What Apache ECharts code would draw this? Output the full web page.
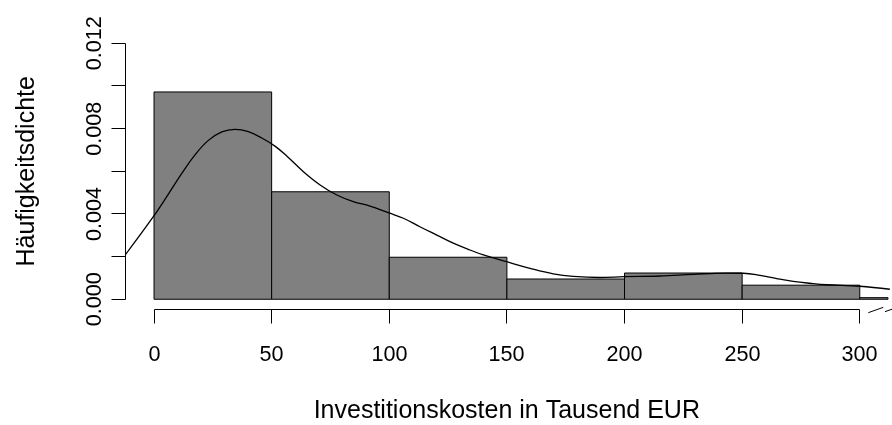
<!DOCTYPE html>
<html>
<head>
<meta charset="utf-8">
<script src="https://cdn.jsdelivr.net/npm/echarts@6/dist/echarts.min.js"></script>
<style>
  html, body { margin: 0; padding: 0; background: #fff; }
  #chart { width: 892px; height: 425px; }
</style>
</head>
<body>
<div id="chart"></div>
<script>
// Histogram class breaks (Tausend EUR) and densities
const breaks = [0, 50, 100, 150, 200, 250, 300, 350];
const densities = [0.00972, 0.00504, 0.00197, 0.00095, 0.00123, 0.00066, 0.000075];

// Kernel density curve
const curveX = [-12.3, -0.3, 6.1, 11.8, 17.4, 23.1, 28.8, 34.4, 40.1, 45.8, 51.4,
  56.4, 63.5, 70.6, 77.7, 84.7, 91.8, 99.6, 106, 113, 120.2, 127.2, 134.3,
  140, 149.9, 159.8, 169.7, 178.2, 189.6, 199.9, 215, 229.2, 243.4, 250.5,
  257.6, 264.7, 271.7, 278.8, 285.9, 300, 312.8];
const curveY = [0.00207, 0.00387, 0.00493, 0.0059, 0.00677, 0.00745, 0.00785, 0.00797, 0.00786, 0.00756, 0.00718,
  0.00672, 0.00598, 0.00536, 0.00489, 0.00458, 0.00437, 0.00406, 0.0038, 0.0034, 0.00301, 0.00263, 0.00231,
  0.00208, 0.00176, 0.00145, 0.00119, 0.00107, 0.00102, 0.00106, 0.00109, 0.00117, 0.00123, 0.00122,
  0.00112, 0.00097, 0.00084, 0.00075, 0.00068, 0.00061, 0.00047];

// Axis ticks and labels
const xTicks = [0, 50, 100, 150, 200, 250, 300];
const xTickLabels = ['0', '50', '100', '150', '200', '250', '300'];
const yTicks = [0, 0.002, 0.004, 0.006, 0.008, 0.010, 0.012];
const yLabelValues = [0, 0.004, 0.008, 0.012];
const yTickLabels = ['0.000', '0.004', '0.008', '0.012'];

const xTitle = 'Investitionskosten in Tausend EUR';
const yTitle = 'Häufigkeitsdichte';

const histData = densities.map((d, i) => [breaks[i], breaks[i + 1], d]);
const curveData = curveX.map((x, i) => [x, curveY[i]]);

const FONT = '"Liberation Sans", Arial, Helvetica, sans-serif';
const FS = 21.6;
const FS_TITLE = 25;

const chart = echarts.init(document.getElementById('chart'), null, { renderer: 'canvas' });

function px(v) { return Math.round(v - 0.5) + 0.5; }

const option = {
  backgroundColor: '#ffffff',
  animation: false,
  grid: [
    // plot region (R usr range extended by 4%)
    { left: 125.8, right: 4, top: 33.1, bottom: 115.5, containLabel: false }
  ],
  xAxis: [{ gridIndex: 0, type: 'value', min: -12, max: 312, show: false }],
  yAxis: [{ gridIndex: 0, type: 'value', min: -0.00048, max: 0.01248, show: false }],
  series: [
    {
      type: 'custom',
      data: histData,
      encode: { x: [0, 1], y: 2 },
      renderItem: function (params, api) {
        const x0 = api.value(0), x1 = api.value(1), d = api.value(2);
        const p0 = api.coord([x0, d]);
        const p1 = api.coord([x1, 0]);
        const shape = echarts.graphic.clipRectByRect(
          { x: p0[0], y: p0[1], width: p1[0] - p0[0], height: p1[1] - p0[1] },
          { x: params.coordSys.x, y: params.coordSys.y, width: params.coordSys.width, height: params.coordSys.height }
        );
        if (!shape) return;
        return { type: 'rect', shape: shape, style: { fill: '#808080', stroke: '#000', lineWidth: 1 } };
      }
    },
    {
      type: 'line',
      data: curveData,
      smooth: 0.4,
      showSymbol: false,
      symbol: 'none',
      clip: true,
      lineStyle: { color: '#000', width: 1.3 },
      z: 5
    },
    {
      // R-style axes: drawn through the grid's own scales
      type: 'custom',
      data: [[0]],
      clip: false,
      silent: true,
      z: 6,
      renderItem: function (params, api) {
        const cs = params.coordSys;
        const bottom = px(cs.y + cs.height);
        const left = px(cs.x);
        const children = [];
        const lineStyle = { stroke: '#000', lineWidth: 1 };
        // x axis
        const xa = api.coord([xTicks[0], 0])[0];
        const xb = api.coord([xTicks[xTicks.length - 1], 0])[0];
        children.push({ type: 'line', shape: { x1: px(xa), y1: bottom, x2: px(xb), y2: bottom }, style: lineStyle });
        xTicks.forEach((t, i) => {
          const x = px(api.coord([t, 0])[0]);
          children.push({ type: 'line', shape: { x1: x, y1: bottom, x2: x, y2: bottom + 14 }, style: lineStyle });
          children.push({ type: 'text', x: x, y: bottom + 46,
            style: { text: xTickLabels[i], fill: '#000', font: FS + 'px ' + FONT, textAlign: 'center', textVerticalAlign: 'middle' } });
        });
        // y axis
        const ya = api.coord([0, yTicks[0]])[1];
        const yb = api.coord([0, yTicks[yTicks.length - 1]])[1];
        children.push({ type: 'line', shape: { x1: left, y1: px(ya), x2: left, y2: px(yb) }, style: lineStyle });
        yTicks.forEach(t => {
          const y = px(api.coord([0, t])[1]);
          children.push({ type: 'line', shape: { x1: left - 14, y1: y, x2: left, y2: y }, style: lineStyle });
        });
        yLabelValues.forEach((t, i) => {
          const y = api.coord([0, t])[1];
          children.push({ type: 'text', x: left - 30.5, y: y, rotation: Math.PI / 2,
            style: { text: yTickLabels[i], fill: '#000', font: FS + 'px ' + FONT, textAlign: 'center', textVerticalAlign: 'middle' } });
        });
        return { type: 'group', children: children };
      }
    }
  ],
  graphic: [
    { type: 'text', x: 506.8, y: 411, style: { text: xTitle, fill: '#000', font: FS_TITLE + 'px ' + FONT, textAlign: 'center', textVerticalAlign: 'middle' } },
    { type: 'text', x: 27, y: 171.3, rotation: Math.PI / 2, style: { text: yTitle, fill: '#000', font: FS_TITLE + 'px ' + FONT, textAlign: 'center', textVerticalAlign: 'middle' } },
    // axis break marks
    { type: 'line', shape: { x1: 868.3, y1: 312.7, x2: 883.3, y2: 307.3 }, style: { stroke: '#000', lineWidth: 1 } },
    { type: 'line', shape: { x1: 885, y1: 311.7, x2: 900, y2: 306.3 }, style: { stroke: '#000', lineWidth: 1 } }
  ]
};
chart.setOption(option);
</script>
</body>
</html>
